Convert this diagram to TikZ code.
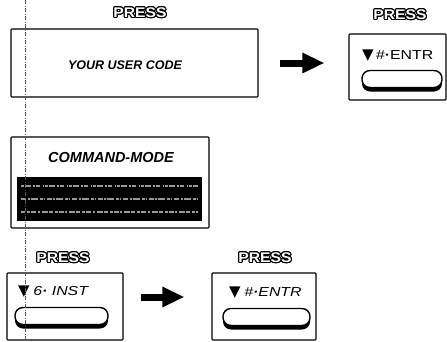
\documentclass[tikz,border=0pt]{standalone}
\usepackage{fontspec}
\setmainfont{Liberation Sans}
\newfontfamily\symfont{DejaVu Sans}
\usepackage{contour}
\contourlength{0.9pt}
\usetikzlibrary{arrows.meta,shadows}

% hollow "PRESS" caption
\newcommand{\presscap}{\scalebox{1.12}[1]{\contour{black}{\textcolor{white}{\bfseries PRESS}}}}
% filled triangle printed on the keys
\newcommand{\keytri}{{\symfont\fontsize{15}{15}\selectfont\char"25BC}}
% key legend, set a little wide
\newcommand{\keylegend}[1]{\scalebox{1.22}[1]{#1}}

\tikzset{
  panel/.style={draw=black, line width=1.1pt, rounded corners=0.8pt, inner sep=0pt},
  keyoval/.style={draw=black, fill=white, line width=1.4pt, rounded corners=8pt,
    inner sep=0pt,
    drop shadow={shadow xshift=0pt, shadow yshift=-4pt, fill=black, opacity=1}},
  caption/.style={font=\fontsize{14}{14}\selectfont, inner sep=0pt},
  boxtext/.style={font=\fontsize{12.5}{13}\selectfont\bfseries\itshape, inner sep=0pt},
  keytext/.style={font=\fontsize{13}{13}\selectfont\itshape, inner sep=0pt, anchor=west},
  blockarrow/.style={line width=7pt, -{Triangle[length=22pt,width=19pt]}},
  guide/.style={draw=black!65, line width=0.6pt, dash pattern=on 4pt off 1.5pt on 1pt off 1.5pt},
  speckle/.style={draw=black!40, line width=2.6pt},
}

\begin{document}
\begin{tikzpicture}[x=1pt, y=-1pt]
\useasboundingbox (0,0) rectangle (447,341);
\fill[white] (0,0) rectangle (447,341);

% vertical guide line down the left margin
\coordinate (gtop) at (25,0);
\coordinate (gbot) at (25,341);

% ---- top row ----
\node[caption] (p1) at (140,13) {\presscap};
\node[panel, minimum width=247pt, minimum height=68pt] (ucode) at (134.5,63) {};
\node[boxtext] (ucodetxt) at (125,65) {YOUR USER CODE};

\node[caption] (p2) at (400,15) {\presscap};
\node[panel, minimum width=97pt, minimum height=66pt] (k1) at (397.5,67) {};
\node[keytext, font=\fontsize{13}{13}\selectfont] (k1txt) at (362,56)
  {\keytri\,\keylegend{\textit{\#}{\bfseries\textperiodcentered}ENTR}};
\node[keyoval, minimum width=80pt, minimum height=17pt] (k1key) at (402,79) {};

\draw[blockarrow, shorten <=21pt, shorten >=24pt] (ucode.east) -- (ucode.east -| k1.west);

% ---- command mode panel ----
\node[panel, minimum width=198pt, minimum height=91pt] (cmd) at (110,182.5) {};
\node[font=\fontsize{14.5}{15}\selectfont\bfseries\itshape, inner sep=0pt] (cmdtxt)
  at (111,158) {COMMAND-MODE};
\node[fill=black, inner sep=0pt, minimum width=185pt, minimum height=44pt] (band) at (109.5,199) {};
% worn lettering inside the dark band
\draw[speckle, dash pattern=on 3pt off 1pt on 6pt off 2pt on 2pt off 1pt on 4pt off 3pt on 1pt off 1pt]
  (21,186) -- (198,186);
\draw[speckle, dash pattern=on 5pt off 1.5pt on 2pt off 1pt on 7pt off 2pt on 3pt off 1pt on 1pt off 2pt]
  (21,199) -- (198,199);
\draw[speckle, dash pattern=on 4pt off 2pt on 3pt off 1pt on 5pt off 1.5pt on 2pt off 2pt on 6pt off 1pt]
  (21,212) -- (198,212);

% ---- bottom row ----
\node[caption] (p3) at (63,258) {\presscap};
\node[panel, minimum width=116pt, minimum height=67pt] (k2) at (65,306.5) {};
\node[keytext] (k2txt) at (18,292) {\keytri\ \keylegend{6{\bfseries\textperiodcentered} INST}};
\node[keyoval, minimum width=93pt, minimum height=17pt] (k2key) at (61.5,316) {};

\node[caption] (p4) at (265,258) {\presscap};
\node[panel, minimum width=104pt, minimum height=67pt] (k3) at (264,306.5) {};
\node[keytext] (k3txt) at (229,293) {\keytri\ \keylegend{\#{\bfseries\textperiodcentered}ENTR}};
\node[keyoval, minimum width=87pt, minimum height=17pt] (k3key) at (266.5,317) {};

\coordinate (a2) at ([yshift=9.5pt]k2.east);
\coordinate (b2) at (a2 -| k3.west);
\draw[blockarrow, shorten <=17pt, shorten >=27pt] (a2) -- (b2);

\draw[guide] (gtop) -- (gbot);
\end{tikzpicture}
\end{document}
